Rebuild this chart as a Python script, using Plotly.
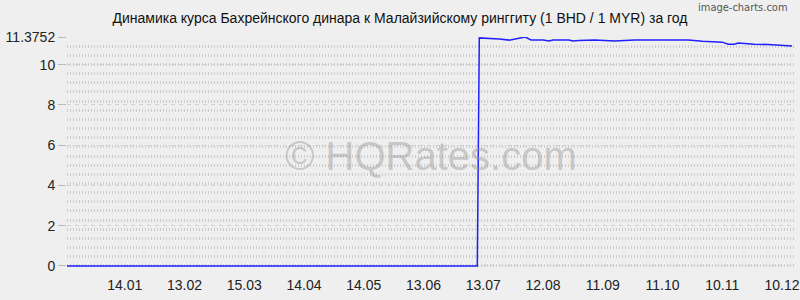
import plotly.graph_objects as go

# ---- data ----
dates = [
    "2021-12-16", "2022-07-10",
    "2022-07-11", "2022-07-16", "2022-07-21", "2022-07-26", "2022-07-31",
    "2022-08-03", "2022-08-06", "2022-08-12", "2022-08-15", "2022-08-17",
    "2022-08-25", "2022-08-27", "2022-08-30", "2022-09-07", "2022-09-17",
    "2022-09-24", "2022-09-27", "2022-10-07", "2022-10-16", "2022-10-24",
    "2022-10-31", "2022-11-06", "2022-11-10", "2022-11-13", "2022-11-16",
    "2022-11-18", "2022-11-21", "2022-11-26", "2022-12-03", "2022-12-10",
    "2022-12-15",
]
rates = [
    0.0, 0.0,
    11.33, 11.315, 11.27, 11.22, 11.30,
    11.3752, 11.23, 11.23, 11.18, 11.22,
    11.23, 11.18, 11.20, 11.23, 11.18,
    11.20, 11.23, 11.22, 11.23, 11.23,
    11.17, 11.13, 11.12, 11.02, 11.02,
    11.08, 11.05, 11.02, 11.00, 10.97,
    10.93,
]

x_tick_dates = [
    "2022-01-14", "2022-02-13", "2022-03-15", "2022-04-14", "2022-05-14",
    "2022-06-13", "2022-07-13", "2022-08-12", "2022-09-11", "2022-10-11",
    "2022-11-10", "2022-12-10",
]
x_tick_labels = ["14.01", "13.02", "15.03", "14.04", "14.05", "13.06",
                 "13.07", "12.08", "11.09", "11.10", "10.11", "10.12"]

y_tick_vals = [0, 2, 4, 6, 8, 10, 11.3752]
y_tick_labels = ["0", "2", "4", "6", "8", "10", "11.3752"]

x_range = ["2021-12-16", "2022-12-16"]
y_range = [-0.45, 11.3752]

title = "Динамика курса Бахрейнского динара к Малайзийскому ринггиту (1 BHD / 1 MYR) за год"

BG = "#efefef"

fig = go.Figure()
fig.add_trace(go.Scatter(
    x=dates, y=rates, mode="lines",
    line=dict(color="#2020ff", width=1.5),
    hoverinfo="skip", showlegend=False,
))

fig.update_layout(
    width=800, height=300,
    margin=dict(l=67, r=0, t=37, b=25),
    paper_bgcolor=BG, plot_bgcolor=BG,
    font=dict(family="Liberation Sans, Arial, sans-serif", color="#222"),
    title=dict(text=title, x=0.5, xanchor="center", y=1 - 18 / 300,
               yanchor="middle", font=dict(size=14, color="#111")),
    showlegend=False,
)

fig.update_xaxes(
    type="date", range=x_range,
    tickvals=x_tick_dates, ticktext=x_tick_labels,
    showgrid=False, zeroline=False, showline=False, ticks="",
    ticklabeloverflow="allow",
    tickfont=dict(size=14, color="#222"),
)

fig.update_yaxes(
    range=y_range,
    tickvals=y_tick_vals, ticktext=y_tick_labels,
    ticks="outside", ticklen=8, tickcolor="#bbbbbb", tickwidth=1,
    tickfont=dict(size=14, color="#222"),
    showgrid=True, gridcolor="#d0d0d0", gridwidth=1, griddash="4px,4px",
    zeroline=False, showline=False,
    minor=dict(tick0=-0.45, dtick=(11.3752 + 0.45) / 26,
               showgrid=True, gridcolor="#cccccc", gridwidth=3,
               griddash="1px,2px", ticks=""),
)

fig.add_annotation(
    text="© HQRates.com", x=0.5, y=0.5, xref="paper", yref="paper",
    showarrow=False, xanchor="center", yanchor="middle",
    font=dict(size=40, color="rgba(150,150,150,0.45)",
              family="Liberation Sans, Arial, sans-serif"),
)

fig.add_annotation(
    text="image-charts.com", x=1, y=1, xref="paper", yref="paper",
    showarrow=False, xanchor="right", yanchor="bottom",
    yshift=37 - 16, xshift=-4,
    font=dict(size=11, color="#555",
              family="DejaVu Sans Condensed, Liberation Sans Narrow, sans-serif"),
)

fig.write_html("out.html")
